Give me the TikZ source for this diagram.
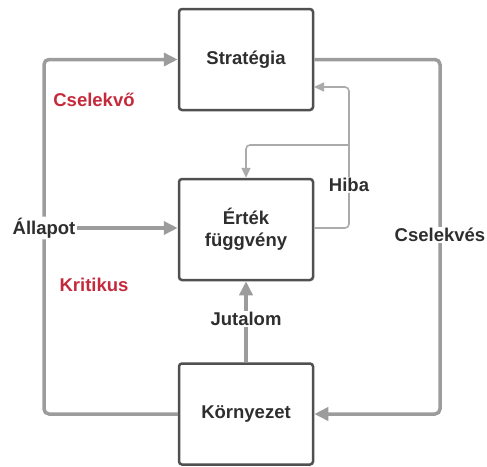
\documentclass[tikz,border=0pt]{standalone}
\usepackage{fontspec}
\setmainfont{Liberation Sans}
\usetikzlibrary{arrows.meta}
\definecolor{boxc}{HTML}{505050}
\definecolor{linec}{HTML}{9C9C9C}
\definecolor{thinc}{HTML}{ABABAB}
\definecolor{txtc}{HTML}{2E2E2E}
\definecolor{redc}{HTML}{C42A3C}
\tikzset{
  blk/.style={draw=boxc, line width=2.5pt, rounded corners=3pt, minimum width=134pt, minimum height=101pt, inner sep=0pt, align=center, font=\fontsize{18.5}{22}\selectfont\bfseries, text=txtc},
  lbl/.style={font=\fontsize{18.5}{22}\selectfont\bfseries, text=txtc, inner sep=1pt},
  rlbl/.style={font=\fontsize{18.5}{22}\selectfont\bfseries, text=redc, inner sep=1pt},
  thk/.style={draw=linec, line width=3.5pt, rounded corners=5pt},
  thn/.style={draw=thinc, line width=1.6pt, rounded corners=4pt},
  tipb/.style={-{Triangle[length=14pt,width=13pt]}},
  tips/.style={-{Triangle[length=10pt,width=9pt]}}
}
\begin{document}
\begin{tikzpicture}[x=1pt,y=-1pt]
\useasboundingbox (0,0) rectangle (487,466);
\node[blk] (strat) at (246,59.5) {Stratégia};
\node[blk] (ert) at (246,229.5) {Érték\\[0pt]függvény};
\node[blk] (korn) at (246,414) {Környezet};
\node[lbl] (allapot) at (44,228) {Állapot};
\node[lbl] (cselekves) at (440,235) {Cselekvés};
\node[lbl] (hiba) at (349,185) {Hiba};
\node[lbl] (jutalom) at (246,319) {Jutalom};
\node[rlbl] (cselekvo) at (94,100) {Cselekvő};
\node[rlbl] (kritikus) at (94,285) {Kritikus};
\coordinate (hibatop) at (314,87);
\coordinate (hibaj) at (349,145);
% left loop
\draw[thk,tipb] (allapot.north) |- (strat.west);
\draw[thk] (allapot.south) |- (korn.west);
\draw[thk,tipb] (allapot.east) -- (ert.west |- allapot.east);
% right loop
\draw[thk] (strat.east) -| (cselekves.north);
\draw[thk,tipb] (cselekves.south) |- (korn.east);
% reward
\draw[thk] (korn.north) -- (jutalom.south);
\draw[thk,tipb] (jutalom.north) -- (ert.south);
% error
\draw[thn] (ert.east |- allapot.east) -| (hiba.south);
\draw[thn,tips] (hiba.north) |- (hibatop);
\draw[thn,tips] (hibaj) -| (ert.north);
\end{tikzpicture}
\end{document}
